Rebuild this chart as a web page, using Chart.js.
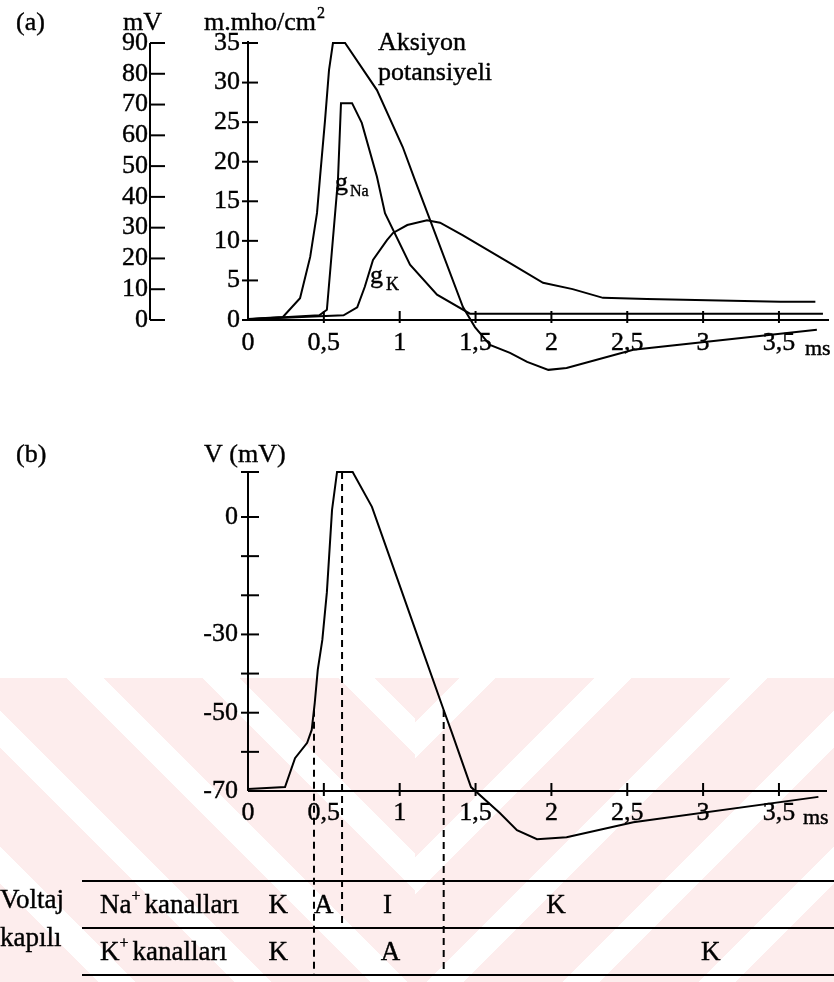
<!DOCTYPE html>
<html>
<head>
<meta charset="utf-8">
<script src="https://cdn.jsdelivr.net/npm/chart.js@4"></script>
<style>
  html, body { margin: 0; padding: 0; background: #fff; }
  #page { position: relative; width: 834px; height: 982px; overflow: hidden; }
  .wm { position: absolute; top: 678px; height: 304px; }
  #wmLeft { left: 0; width: 415px;
    background: repeating-linear-gradient(45deg, #fdeded 0 70px, #fff 70px 96px); }
  #wmRight { left: 415px; width: 419px;
    background: repeating-linear-gradient(-45deg, #fdeded 0 70px, #fff 70px 96px); }
  canvas { position: absolute; left: 0; top: 0; }
</style>
</head>
<body>
<div id="page">
  <div class="wm" id="wmLeft"></div>
  <div class="wm" id="wmRight"></div>
  <canvas id="chartA" width="834" height="420"></canvas>
  <canvas id="chartB" width="834" height="982"></canvas>
</div>
<script>
/* ===== DATA ===== */

// shared time axis (ms)
const timeTicks = [0, 0.5, 1, 1.5, 2, 2.5, 3, 3.5];
const timeTickLabels = ['0', '0,5', '1', '1,5', '2', '2,5', '3', '3,5'];

// panel (a) axes
const mvTicks = [0, 10, 20, 30, 40, 50, 60, 70, 80, 90];
const gTicks = [0, 5, 10, 15, 20, 25, 30, 35];

// panel (a): action potential (mV above rest)
const apTimeA = [0, 0.23, 0.343, 0.41, 0.455, 0.475, 0.508, 0.534, 0.56, 0.64, 0.85, 1.02, 1.10, 1.2, 1.417, 1.496, 1.595, 1.727, 1.84, 1.98, 2.10, 2.54, 3.75];
const apValA  = [0.3, 1, 7.1, 20.5, 34.8, 46.5, 65, 81.2, 90, 90, 74.7, 56.2, 45.5, 32.5, 4.2, -2.3, -8.1, -10.7, -13.6, -16.2, -15.6, -9.7, -3.2];

// panel (a): sodium conductance (m.mho/cm2)
const gNaTime = [0, 0.47, 0.52, 0.593, 0.613, 0.686, 0.75, 0.85, 0.903, 1.068, 1.246, 1.463, 3.79];
const gNaVal  = [0.1, 0.6, 1.3, 17.7, 27.4, 27.4, 24.9, 18.1, 13.5, 7.0, 3.2, 0.8, 0.8];

// panel (a): potassium conductance (m.mho/cm2)
const gKTime = [0, 0.63, 0.72, 0.77, 0.824, 0.916, 0.956, 1.05, 1.18, 1.266, 1.417, 1.727, 1.945, 2.14, 2.34, 2.63, 3.51, 3.74];
const gKVal  = [0.1, 0.6, 1.6, 4.2, 7.6, 10.1, 11.0, 12.0, 12.6, 12.3, 10.7, 7.2, 4.7, 3.9, 2.8, 2.65, 2.3, 2.3];

// panel (b): membrane potential V (mV)
const vTicks = [0, -10, -20, -30, -40, -50, -60, -70];
const vTickLabels = ['0', '', '', '-30', '', '-50', '', '-70'];
const apTimeB = [0, 0.244, 0.31, 0.39, 0.42, 0.44, 0.46, 0.49, 0.52, 0.554, 0.587, 0.69, 0.817, 0.98, 1.12, 1.29, 1.345, 1.47, 1.66, 1.773, 1.905, 2.10, 2.54, 3.76];
const apValB  = [-69.5, -69, -61.6, -57.7, -54.4, -47.5, -39, -31.4, -19.2, 1.8, 11.5, 11.5, 2.6, -15.3, -30.7, -49.3, -55.2, -69, -75.6, -80, -82.3, -81.8, -78, -71.5];

// gate transitions (ms) and channel states
const gateTimes = [0.435, 0.62, 1.29];
const naStates = ['K', 'A', 'I', 'K'];
const kStates = ['K', 'A', 'K'];

/* ===== HELPERS ===== */

const FONT_FAMILY = '"Liberation Serif", "Times New Roman", serif';
const INK = '#000';

function pts(ts, vs) {
  return ts.map((t, i) => ({ x: t, y: vs[i] }));
}

function interp(ts, vs, t) {
  for (let i = 1; i < ts.length; i++) {
    if (t <= ts[i]) {
      const f = (t - ts[i - 1]) / (ts[i] - ts[i - 1]);
      return vs[i - 1] + f * (vs[i] - vs[i - 1]);
    }
  }
  return vs[vs.length - 1];
}

// min/max of a scale so that value v1 sits at pixel p1 and v2 at p2
function fitScale(v1, p1, v2, p2, topPx, botPx) {
  const k = (p1 - p2) / (v2 - v1);
  return { min: v1 - (botPx - p1) / k, max: v1 + (p1 - topPx) / k };
}

// scanned-looking serif text: fill plus a hairline stroke
function text(ctx, s, x, y, size, align, base) {
  ctx.save();
  ctx.font = `${size}px ${FONT_FAMILY}`;
  ctx.textAlign = align || 'left';
  ctx.textBaseline = base || 'alphabetic';
  ctx.fillStyle = INK;
  ctx.strokeStyle = INK;
  ctx.lineWidth = 0.4;
  ctx.setLineDash([]);
  ctx.fillText(s, x, y);
  ctx.strokeText(s, x, y);
  ctx.restore();
}

function textWidth(ctx, s, size) {
  ctx.font = `${size}px ${FONT_FAMILY}`;
  return ctx.measureText(s).width;
}

function seg(ctx, x1, y1, x2, y2) {
  ctx.beginPath();
  ctx.moveTo(x1, y1);
  ctx.lineTo(x2, y2);
  ctx.stroke();
}

function lineSet(data, axis) {
  return {
    data,
    yAxisID: axis,
    borderColor: INK,
    borderWidth: 2,
    pointRadius: 0,
    tension: 0,
    fill: false,
  };
}

const X_LEFT = 248, X_RIGHT = 825;
const timeScale = { type: 'linear', min: 0, max: (X_RIGHT - X_LEFT) / 151.7, display: false };
const TICK_FONT = 26;

/* ===== PANEL (a) ===== */

(function() {
  const el = document.getElementById('chartA');
  const H = 420, TOP = 40, BOT = 376;
  const gFit = fitScale(0, 320, 35, 43, TOP, BOT);
  const mvFit = fitScale(0, 320, 90, 43, TOP, BOT);
  const MV_AXIS_X = 150;

  const axesA = {
    id: 'axesA',
    afterDatasetsDraw(chart) {
      const { ctx, scales: { x, g, mv } } = chart;
      ctx.save();
      ctx.strokeStyle = INK;
      ctx.lineWidth = 2;
      const y0 = g.getPixelForValue(0);
      const gx = x.getPixelForValue(0);

      // time axis
      seg(ctx, gx - 4, y0, x.right + 4, y0);
      timeTicks.forEach((t, i) => {
        const px = x.getPixelForValue(t);
        if (i > 0) seg(ctx, px, y0 - 9, px, y0 + 3);
        text(ctx, timeTickLabels[i], px, y0 + 23, TICK_FONT, 'center', 'middle');
      });
      text(ctx, 'ms', x.right - 20, y0 + 29, 22, 'left', 'middle');

      // conductance axis
      seg(ctx, gx, g.getPixelForValue(35) - 2, gx, y0);
      gTicks.forEach(v => {
        const py = g.getPixelForValue(v);
        seg(ctx, gx - 6, py, gx + 10, py);
        text(ctx, String(v), 240, py, TICK_FONT, 'right', 'middle');
      });

      // mV axis
      seg(ctx, MV_AXIS_X, mv.getPixelForValue(90), MV_AXIS_X, mv.getPixelForValue(0));
      mvTicks.forEach(v => {
        const py = mv.getPixelForValue(v);
        seg(ctx, MV_AXIS_X, py, MV_AXIS_X + 15, py);
        text(ctx, String(v), 148, py, TICK_FONT, 'right', 'middle');
      });

      // titles
      text(ctx, '(a)', 16, 30, 26);
      text(ctx, 'mV', 123, 30, 26);
      text(ctx, 'm.mho/cm', 204, 30, 26);
      text(ctx, '2', 204 + textWidth(ctx, 'm.mho/cm', 26) + 1, 18, 16);
      text(ctx, 'Aksiyon', 378, 50, 26);
      text(ctx, 'potansiyeli', 378, 80, 26);
      text(ctx, 'g', 335, 190, 26);
      text(ctx, 'Na', 350, 196, 16);
      text(ctx, 'g', 370, 283, 26);
      text(ctx, 'K', 386, 290, 18);
      ctx.restore();
    }
  };

  new Chart(el, {
    type: 'line',
    data: {
      datasets: [
        lineSet(pts(apTimeA, apValA), 'mv'),
        lineSet(pts(gNaTime, gNaVal), 'g'),
        lineSet(pts(gKTime, gKVal), 'g'),
      ]
    },
    options: {
      responsive: false,
      animation: false,
      devicePixelRatio: 1,
      layout: { padding: { left: X_LEFT, right: 834 - X_RIGHT, top: TOP, bottom: H - BOT } },
      plugins: { legend: { display: false }, tooltip: { enabled: false } },
      scales: {
        x: timeScale,
        g: { type: 'linear', position: 'left', display: false, min: gFit.min, max: gFit.max },
        mv: { type: 'linear', position: 'left', display: false, min: mvFit.min, max: mvFit.max },
      }
    },
    plugins: [axesA]
  });
})();

/* ===== PANEL (b) + CHANNEL TABLE ===== */

(function() {
  const el = document.getElementById('chartB');
  const H = 982, TOP = 470, BOT = 845;
  const vFit = fitScale(0, 517, -70, 791, TOP, BOT);
  const V_CAP = 11.5;
  const TABLE_Y = [881, 928, 975];
  const TABLE_X0 = 82;
  const TABLE_FONT = 27;
  const dashRow = [2, 1, 2];
  const naStateAt = [0.2, 0.5, 0.92, 2.03];
  const kStateAt = [0.2, 0.94, 3.05];

  const axesB = {
    id: 'axesB',
    afterDatasetsDraw(chart) {
      const { ctx, scales: { x, v } } = chart;
      ctx.save();
      ctx.strokeStyle = INK;
      ctx.lineWidth = 2;
      const vx = x.getPixelForValue(0);
      const yBase = v.getPixelForValue(-70);

      // V axis
      const yCap = v.getPixelForValue(V_CAP);
      seg(ctx, vx, yCap, vx, yBase);
      seg(ctx, vx - 7, yCap, vx + 11, yCap);
      vTicks.forEach((val, i) => {
        const py = v.getPixelForValue(val);
        if (val !== -70) seg(ctx, vx - 7, py, vx + 11, py);
        if (vTickLabels[i]) text(ctx, vTickLabels[i], 238, py, TICK_FONT, 'right', 'middle');
      });

      // time axis at -70 mV
      seg(ctx, vx, yBase, x.right + 2, yBase);
      timeTicks.forEach((t, i) => {
        const px = x.getPixelForValue(t);
        if (i > 0) seg(ctx, px, yBase - 8, px, yBase + 5);
        text(ctx, timeTickLabels[i], px, yBase + 22, TICK_FONT, 'center', 'middle');
      });
      text(ctx, 'ms', x.right - 22, yBase + 27, 22, 'left', 'middle');

      text(ctx, '(b)', 16, 462, 26);
      text(ctx, 'V (mV)', 204, 462, 26);

      // table rules
      TABLE_Y.forEach(y => seg(ctx, TABLE_X0, y, 834, y));

      // gate transition lines
      ctx.setLineDash([7, 5]);
      gateTimes.forEach((t, i) => {
        const px = x.getPixelForValue(t);
        const top = v.getPixelForValue(interp(apTimeB, apValB, t));
        seg(ctx, px, top, px, TABLE_Y[dashRow[i]]);
      });
      ctx.setLineDash([]);

      // row labels
      const r1 = (TABLE_Y[0] + TABLE_Y[1]) / 2 + 1;
      const r2 = (TABLE_Y[1] + TABLE_Y[2]) / 2 + 1;
      text(ctx, 'Voltaj', 0, 901, TABLE_FONT, 'left', 'middle');
      text(ctx, 'kapılı', 0, 939, TABLE_FONT, 'left', 'middle');
      let w = textWidth(ctx, 'Na', TABLE_FONT);
      text(ctx, 'Na', 100, r1, TABLE_FONT, 'left', 'middle');
      text(ctx, '+', 100 + w, r1 - 9, 16, 'left', 'middle');
      text(ctx, 'kanalları', 100 + w + 13, r1, TABLE_FONT, 'left', 'middle');
      w = textWidth(ctx, 'K', TABLE_FONT);
      text(ctx, 'K', 100, r2, TABLE_FONT, 'left', 'middle');
      text(ctx, '+', 100 + w, r2 - 9, 16, 'left', 'middle');
      text(ctx, 'kanalları', 100 + w + 13, r2, TABLE_FONT, 'left', 'middle');

      naStates.forEach((s, i) => text(ctx, s, x.getPixelForValue(naStateAt[i]), r1, TABLE_FONT, 'center', 'middle'));
      kStates.forEach((s, i) => text(ctx, s, x.getPixelForValue(kStateAt[i]), r2, TABLE_FONT, 'center', 'middle'));
      ctx.restore();
    }
  };

  new Chart(el, {
    type: 'line',
    data: {
      datasets: [lineSet(pts(apTimeB, apValB), 'v')]
    },
    options: {
      responsive: false,
      animation: false,
      devicePixelRatio: 1,
      layout: { padding: { left: X_LEFT, right: 834 - X_RIGHT, top: TOP, bottom: H - BOT } },
      plugins: { legend: { display: false }, tooltip: { enabled: false } },
      scales: {
        x: timeScale,
        v: { type: 'linear', position: 'left', display: false, min: vFit.min, max: vFit.max },
      }
    },
    plugins: [axesB]
  });
})();
</script>
</body>
</html>
